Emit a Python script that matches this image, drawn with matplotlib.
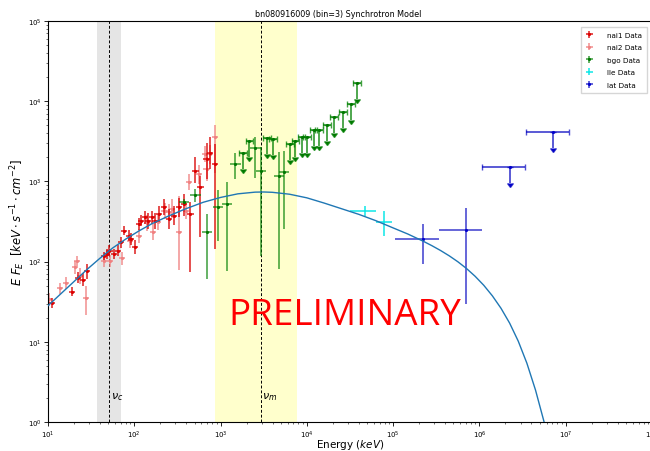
import numpy as np
import matplotlib
matplotlib.use("Agg")
import matplotlib.pyplot as plt

# ---------------- data ----------------
title = "bn080916009 (bin=3) Synchrotron Model"

# nai1 (keV, E*F_E, lower/upper error in dex)
nai1_E = [11.0, 19.2, 22.5, 25.7, 28.2, 44.0, 47.9, 51.6, 58.5, 64.6, 70.0, 75.2,
          85.9, 91.2, 101, 112, 120, 134, 143, 161, 175, 195, 219, 251, 286, 327,
          374, 448, 512, 585, 687, 759, 871]
nai1_F = [30.5, 42.2, 63.1, 59.6, 77.1, 116, 124, 137, 124, 137, 174, 243,
          210, 191, 151, 295, 324, 357, 324, 357, 324, 392, 475, 339, 373, 475,
          522, 392, 1358, 843, 1905, 2290, 1650]
nai1_lo = [0.06, 0.06, 0.07, 0.08, 0.10, 0.05, 0.06, 0.07, 0.06, 0.07, 0.07, 0.06,
           0.07, 0.08, 0.09, 0.07, 0.07, 0.08, 0.10, 0.08, 0.10, 0.10, 0.10, 0.12, 0.12, 0.12,
           0.15, 0.72, 0.15, 0.62, 0.25, 0.20, 1.06]
nai1_hi = [0.06, 0.06, 0.07, 0.08, 0.08, 0.05, 0.06, 0.07, 0.06, 0.07, 0.07, 0.06,
           0.07, 0.08, 0.09, 0.07, 0.07, 0.08, 0.10, 0.08, 0.10, 0.10, 0.10, 0.12, 0.12, 0.12,
           0.12, 0.15, 0.17, 0.14, 0.20, 0.20, 0.25]

# nai2
nai2_E = [10.3, 13.8, 16.1, 20.6, 21.6, 23.6, 27.5, 44.0, 52.5, 71.9, 89.7, 112,
          141, 165, 186, 224, 251, 275, 327, 398, 427, 562, 652, 687, 759, 871]
nai2_F = [33.9, 46.5, 54.1, 85.1, 102, 65.6, 34.7, 102, 102, 110, 182, 209,
          302, 232, 309, 432, 417, 457, 234, 427, 977, 1230, 2188, 1429, 2188, 3548]
nai2_lo = [0.08, 0.07, 0.08, 0.08, 0.06, 0.10, 0.20, 0.07, 0.07, 0.08, 0.09, 0.09,
           0.10, 0.10, 0.10, 0.10, 0.10, 0.12, 0.48, 0.10, 0.10, 0.12, 0.10, 0.15, 0.12, 0.45]
nai2_hi = [0.08, 0.07, 0.08, 0.08, 0.06, 0.10, 0.15, 0.07, 0.07, 0.08, 0.09, 0.09,
           0.10, 0.10, 0.10, 0.10, 0.10, 0.12, 0.45, 0.10, 0.10, 0.12, 0.10, 0.15, 0.12, 0.15]

# bgo detections
bgo_E = [374, 512, 700, 940, 1197, 1483, 2530, 2944, 4720, 5410]
bgo_F = [550, 676, 232, 475, 523, 1648, 2606, 1358, 1178, 1297]
bgo_lo = [0.04, 0.09, 0.58, 0.42, 0.83, 0.19, 0.37, 1.06, 1.16, 0.71]
bgo_hi = [0.04, 0.075, 0.23, 0.21, 0.27, 0.14, 0.14, 0.30, 0.29, 0.27]
# bgo upper limits
bgo_ul_E = [1803, 2158, 3451, 4055, 6339, 7379, 8670, 10070, 11940, 13900,
            17100, 20800, 26000, 32510, 38020]
bgo_ul_F = [2239, 3214, 3475, 3381, 2924, 3214, 3606, 3606, 4416, 4416,
            5047, 6310, 7244, 9226, 16870]

# lle
lle_E = [47200, 79000]
lle_Elo = [31840, 63100]
lle_Ehi = [63100, 96600]
lle_F = [432, 314]
lle_Flo = [367, 207]
lle_Fhi = [498, 432]

# lat detections
lat_E = [221000, 706000]
lat_Elo = [105400, 336500]
lat_Ehi = [336500, 1070000]
lat_F = [191, 248]
lat_Flo = [93.3, 29.5]
lat_Fhi = [295, 462]
# lat upper limits
lat_ul_E = [2250000, 7200000]
lat_ul_Elo = [1084000, 3430000]
lat_ul_Ehi = [3390000, 10840000]
lat_ul_F = [1500, 4170]
lat_ul_Fend = [946, 2590]

# model curve (log10 keV / log10 flux)
model_logE = [1.0, 1.15, 1.3, 1.45, 1.6, 1.75, 1.9, 2.05, 2.2, 2.4, 2.6, 2.8, 3.0,
              3.2, 3.4, 3.5, 3.6, 3.8, 4.0, 4.2, 4.4, 4.6, 4.8, 5.0, 5.17, 5.345,
              5.45, 5.55, 5.65, 5.75, 5.85, 5.95, 6.05, 6.15, 6.25, 6.35, 6.45,
              6.55, 6.65, 6.75]
model_logF = [1.45, 1.60, 1.75, 1.90, 2.04, 2.17, 2.28, 2.38, 2.47, 2.57, 2.66, 2.74,
              2.80, 2.845, 2.866, 2.868, 2.864, 2.84, 2.795, 2.73, 2.66, 2.59, 2.51,
              2.42, 2.344, 2.256, 2.198, 2.138, 2.072, 1.998, 1.914, 1.817, 1.705,
              1.573, 1.418, 1.233, 1.008, 0.733, 0.398, -0.002]

nu_c_band = (37.0, 70.6)
nu_c = 51.0
nu_m_band = (851.0, 7660.0)
nu_m = 2917.0

# ---------------- figure ----------------
fig = plt.figure(figsize=(6.5, 4.52), dpi=100)
ax = fig.add_axes([48 / 650, 1 - 423 / 452, 604 / 650, 401 / 452])
ax.set_xscale("log")
ax.set_yscale("log")
ax.set_xlim(10, 1e8)
ax.set_ylim(1, 1e5)

ax.axvspan(*nu_c_band, color="grey", alpha=0.2, lw=0, zorder=0)
ax.axvspan(*nu_m_band, color="yellow", alpha=0.2, lw=0, zorder=0)
ax.axvline(nu_c, color="black", ls=(0, (3, 2)), lw=0.7, zorder=1)
ax.axvline(nu_m, color="black", ls=(0, (3, 2)), lw=0.7, zorder=1)
ax.text(nu_c * 1.05, 2.0, r"$\nu_c$", fontsize=8)
ax.text(nu_m * 1.03, 2.0, r"$\nu_m$", fontsize=8)


def dex_err(F, lo, hi):
    F = np.asarray(F, float)
    return [F - F * 10 ** (-np.asarray(lo)), F * 10 ** np.asarray(hi) - F]


def xdex(E, d):
    E = np.asarray(E, float)
    return [E - E * 10 ** (-d), E * 10 ** d - E]


h1 = ax.errorbar(nai1_E, nai1_F, yerr=dex_err(nai1_F, nai1_lo, nai1_hi),
                 xerr=xdex(nai1_E, 0.035), fmt=".", ms=2.5, color="#dd0000",
                 ecolor=(0.85, 0.0, 0.0, 0.75), elinewidth=1.3, capsize=0,
                 label="nai1 Data", zorder=3)
h2 = ax.errorbar(nai2_E, nai2_F, yerr=dex_err(nai2_F, nai2_lo, nai2_hi),
                 xerr=xdex(nai2_E, 0.035), fmt=".", ms=2.5, color="#f08080",
                 ecolor=(0.94, 0.5, 0.5, 0.75), elinewidth=1.3, capsize=0,
                 label="nai2 Data", zorder=2)
h3 = ax.errorbar(bgo_E, bgo_F, yerr=dex_err(bgo_F, bgo_lo, bgo_hi),
                 xerr=xdex(bgo_E, 0.06), fmt=".", ms=2.5, color="#007700",
                 ecolor=(0.0, 0.5, 0.0, 0.65), elinewidth=1.3, capsize=0,
                 label="bgo Data", zorder=3)
ul_F = np.asarray(bgo_ul_F, float)
ax.errorbar(bgo_ul_E, bgo_ul_F, yerr=[ul_F - ul_F * 10 ** -0.2, np.zeros_like(ul_F)],
            xerr=xdex(bgo_ul_E, 0.045), uplims=True, fmt=".", ms=2.5,
            color="#007700", ecolor=(0.0, 0.5, 0.0, 0.75), elinewidth=1.3,
            capsize=2, zorder=3)
lE = np.asarray(lle_E, float)
lF = np.asarray(lle_F, float)
h4 = ax.errorbar(lle_E, lle_F, xerr=[lE - np.asarray(lle_Elo), np.asarray(lle_Ehi) - lE],
                 yerr=[lF - np.asarray(lle_Flo), np.asarray(lle_Fhi) - lF],
                 fmt="none", color=(0.0, 0.9, 0.9, 0.8), elinewidth=1.3,
                 label="lle Data", zorder=3)
tE = np.asarray(lat_E, float)
tF = np.asarray(lat_F, float)
h5 = ax.errorbar(lat_E, lat_F, xerr=[tE - np.asarray(lat_Elo), np.asarray(lat_Ehi) - tE],
                 yerr=[tF - np.asarray(lat_Flo), np.asarray(lat_Fhi) - tF],
                 fmt=".", ms=2.5, color="#0000cc", ecolor=(0.0, 0.0, 0.75, 0.65),
                 elinewidth=1.3, label="lat Data", zorder=3)
uE = np.asarray(lat_ul_E, float)
uF = np.asarray(lat_ul_F, float)
ax.errorbar(lat_ul_E, lat_ul_F,
            xerr=[uE - np.asarray(lat_ul_Elo), np.asarray(lat_ul_Ehi) - uE],
            yerr=[uF - np.asarray(lat_ul_Fend), np.zeros_like(uF)], uplims=True,
            fmt=".", ms=2.5, color="#0000cc", ecolor=(0.0, 0.0, 0.75, 0.7),
            elinewidth=1.3, capsize=2, zorder=3)

ax.plot(10 ** np.asarray(model_logE), 10 ** np.asarray(model_logF),
        color="#1f77b4", lw=1.0, zorder=4)

ax.text(0.4917, 0.2656, "PRELIMINARY", transform=ax.transAxes, color="red",
        fontsize=26.5, family="Open Sans", fontweight="normal", ha="center",
        va="center", zorder=5)

ax.text(0.48, 1.008, title, transform=ax.transAxes, fontsize=5.8,
        ha="center", va="bottom")
ax.set_xlabel(r"Energy ($keV$)", fontsize=7.5, labelpad=-1.5)
ax.set_ylabel(r"$E\ F_E$  $[keV \cdot s^{-1} \cdot cm^{-2}]$", fontsize=8.3, labelpad=1)
ax.tick_params(axis="both", which="major", labelsize=5, length=3, width=0.6, pad=1.5)
ax.tick_params(axis="both", which="minor", length=1.5, width=0.4)
for s in ax.spines.values():
    s.set_linewidth(0.8)

leg = ax.legend(handles=[h1, h2, h3, h4, h5], loc="upper right",
                bbox_to_anchor=(0.9985, 0.995), fontsize=5.2, frameon=True,
                borderpad=0.7, labelspacing=0.9, handlelength=1.0, handletextpad=2.0,
                fancybox=False, edgecolor="#cccccc")

fig.savefig("out.png", dpi=100)
